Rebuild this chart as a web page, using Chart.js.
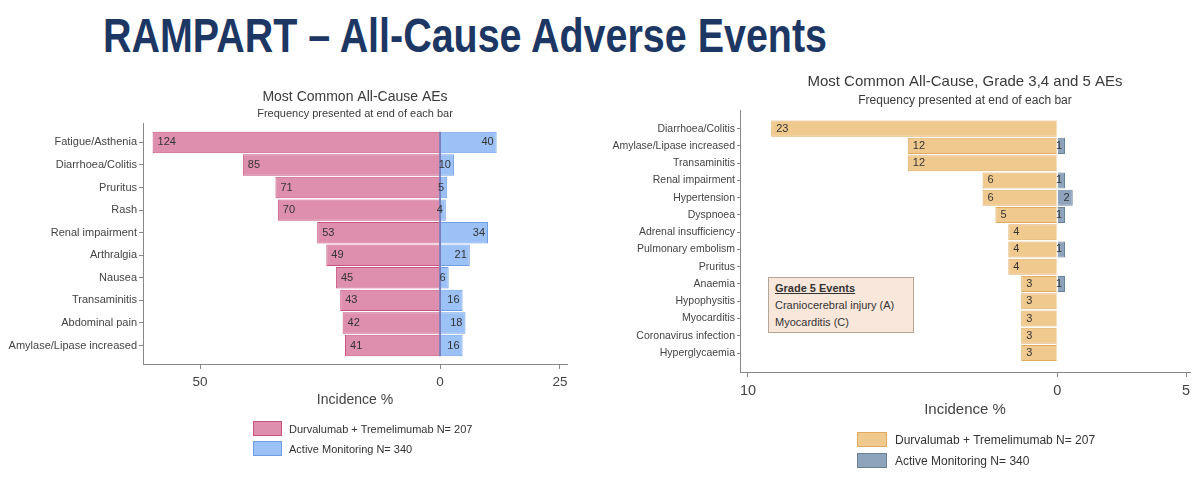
<!DOCTYPE html>
<html>
<head>
<meta charset="utf-8">
<title>RAMPART – All-Cause Adverse Events</title>
<script src="https://cdn.jsdelivr.net/npm/chart.js@4.4.1/dist/chart.umd.min.js"></script>
<style>
  html, body { margin: 0; padding: 0; background: #fff; }
  body { width: 1200px; height: 478px; position: relative; overflow: hidden; font-family: "Liberation Sans", Arial, sans-serif; }
  #mainTitle { position: absolute; left: 103px; top: 12px; font: bold 48px/1 "Liberation Sans Narrow", "Liberation Sans", Arial, sans-serif; color: #1d3764; white-space: nowrap; transform-origin: 0 0; }
  .panel { position: absolute; top: 0; width: 600px; height: 478px; }
  .legend { position: absolute; color: #333; }
  .legend .item { display: flex; align-items: center; }
  .legend .swatch { box-sizing: border-box; border: 1px solid; }
  #grade5 { position: absolute; left: 768px; top: 277px; width: 146px; height: 56px; box-sizing: border-box; border: 1px solid #b5a597; background: #f9e7db; padding: 2px 0 0 6px; font-size: 11px; line-height: 17px; color: #333; }
  #grade5 b { text-decoration: underline; }
</style>
</head>
<body>
<div id="mainTitle">RAMPART – All-Cause Adverse Events</div>

<div class="panel" style="left:0"><canvas id="leftChart"></canvas></div>
<div class="panel" style="left:600px"><canvas id="rightChart"></canvas></div>

<div id="leftLegend" class="legend" style="left:253px; top:421px; font-size:11px"></div>
<div id="rightLegend" class="legend" style="left:857px; top:432px; font-size:12px"></div>

<div id="grade5">
  <b>Grade 5 Events</b><br>
  Craniocerebral injury (A)<br>
  Myocarditis (C)
</div>

<script>
// Left panel - most common all-cause AEs (bar = incidence %, label = patient count)
const allCauseLabels = ['Fatigue/Asthenia', 'Diarrhoea/Colitis', 'Pruritus', 'Rash', 'Renal impairment',
    'Arthralgia', 'Nausea', 'Transaminitis', 'Abdominal pain', 'Amylase/Lipase increased'];
const allCauseDurvaPct = [59.9, 41.1, 34.3, 33.8, 25.6, 23.7, 21.7, 20.8, 20.3, 19.8];
const allCauseDurvaN = [124, 85, 71, 70, 53, 49, 45, 43, 42, 41];
const allCauseMonPct = [11.8, 2.9, 1.5, 1.2, 10.0, 6.2, 1.8, 4.7, 5.3, 4.7];
const allCauseMonN = [40, 10, 5, 4, 34, 21, 6, 16, 18, 16];

// Right panel - grade 3, 4 and 5 AEs
const g345Labels = ['Diarrhoea/Colitis', 'Amylase/Lipase increased', 'Transaminitis', 'Renal impairment',
    'Hypertension', 'Dyspnoea', 'Adrenal insufficiency', 'Pulmonary embolism', 'Pruritus', 'Anaemia',
    'Hypophysitis', 'Myocarditis', 'Coronavirus infection', 'Hyperglycaemia'];
const g345DurvaPct = [11.1, 5.8, 5.8, 2.9, 2.9, 2.4, 1.9, 1.9, 1.9, 1.4, 1.4, 1.4, 1.4, 1.4];
const g345DurvaN = [23, 12, 12, 6, 6, 5, 4, 4, 4, 3, 3, 3, 3, 3];
const g345MonPct = [null, 0.3, null, 0.3, 0.6, 0.3, null, 0.3, null, 0.3, null, null, null, null];
const g345MonN = [null, 1, null, 1, 2, 1, null, 1, null, 1, null, null, null, null];

// x axis ticks (both sides shown as positive numbers)
const leftTickValues = [-50, 0, 25];
const leftTickText = ['50', '0', '25'];
const rightTickValues = [-12, 0, 5];
const rightTickText = ['10', '0', '5'];

const durvaLabel = 'Durvalumab + Tremelimumab N= 207';
const monLabel = 'Active Monitoring N= 340';

Chart.defaults.font.family = '"Liberation Sans", Arial, sans-serif';
Chart.defaults.color = '#444';

// durvalumab goes to the left, so its values are mirrored
function toPoints(pct, counts, side) {
    const pts = [];
    pct.forEach((v, i) => {
        if (v === null) return;
        pts.push({ x: side * v, y: i, n: counts[i] });
    });
    return pts;
}

// count printed just inside the outer end of each bar
const barCounts = {
    id: 'barCounts',
    afterDatasetsDraw(chart, args, opts) {
        const ctx = chart.ctx;
        ctx.save();
        ctx.font = opts.size + 'px "Liberation Sans", Arial, sans-serif';
        ctx.fillStyle = '#333';
        ctx.textBaseline = 'middle';
        chart.data.datasets.forEach((ds, di) => {
            chart.getDatasetMeta(di).data.forEach((bar, i) => {
                const n = ds.data[i].n;
                if (bar.x < bar.base) {
                    ctx.textAlign = 'left';
                    ctx.fillText(n, bar.x + 5, bar.y);
                } else {
                    ctx.textAlign = 'right';
                    ctx.fillText(n, bar.x - 3, bar.y);
                }
            });
        });
        ctx.restore();
    }
};

// dark divider at 0 (left chart only)
const zeroLine = {
    id: 'zeroLine',
    afterDatasetsDraw(chart, args, opts) {
        if (!opts.color) return;
        const bars = chart.getDatasetMeta(0).data;
        const first = bars[0], last = bars[bars.length - 1];
        const x = chart.scales.x.getPixelForValue(0);
        const ctx = chart.ctx;
        ctx.save();
        ctx.strokeStyle = opts.color;
        ctx.lineWidth = 1.5;
        ctx.beginPath();
        ctx.moveTo(x, first.y - first.height / 2);
        ctx.lineTo(x, last.y + last.height / 2);
        ctx.stroke();
        ctx.restore();
    }
};

function axisX(min, max, tickValues, tickText, tickSize, titleSize, titlePad, height) {
    return {
        type: 'linear', stacked: true, min: min, max: max, offset: false,
        afterBuildTicks: s => { s.ticks = tickValues.map(v => ({ value: v })); },
        afterFit: s => { s.height = height; },
        ticks: {
            autoSkip: false, maxRotation: 0, padding: 5, color: '#444',
            font: { size: tickSize },
            callback: v => tickText[tickValues.indexOf(v)]
        },
        grid: { drawOnChartArea: false, drawTicks: true, tickLength: 5, color: '#888', offset: false },
        border: { display: true, color: '#888' },
        title: { display: true, text: 'Incidence %', color: '#444', font: { size: titleSize }, padding: { top: 0, bottom: titlePad } }
    };
}

function axisY(labels, min, max, width, fontSize, tickLen) {
    return {
        type: 'linear', reverse: true, stacked: true, min: min, max: max, offset: false,
        afterBuildTicks: s => { s.ticks = labels.map((l, i) => ({ value: i })); },
        afterFit: s => { s.width = width; },
        ticks: { autoSkip: false, padding: 2, color: '#444', font: { size: fontSize }, callback: v => labels[v] },
        grid: { drawOnChartArea: false, tickLength: tickLen, color: '#888', offset: false },
        border: { display: true, color: '#888' }
    };
}

const leftChart = new Chart(document.getElementById('leftChart'), {
    type: 'bar',
    data: {
        datasets: [{
            label: durvaLabel,
            data: toPoints(allCauseDurvaPct, allCauseDurvaN, -1),
            backgroundColor: '#de8fad', borderColor: '#c9527f', borderWidth: 1,
            barPercentage: 0.95, categoryPercentage: 1
        }, {
            label: monLabel,
            data: toPoints(allCauseMonPct, allCauseMonN, 1),
            backgroundColor: '#9cc1f6', borderColor: '#6f9ee6', borderWidth: 1,
            barPercentage: 0.95, categoryPercentage: 1
        }]
    },
    options: {
        indexAxis: 'y',
        responsive: true,
        maintainAspectRatio: false,
        animation: false,
        layout: { padding: { left: 0, right: 33, top: 0, bottom: 0 } },
        scales: {
            x: axisX(-61.9, 26.46, leftTickValues, leftTickText, 13.5, 14, 69.6, 114),
            y: axisY(allCauseLabels, -0.86, 9.82, 143, 11, 4)
        },
        plugins: {
            legend: { display: false },
            tooltip: { enabled: false },
            title: {
                display: true, text: 'Most Common All-Cause AEs', fullSize: false, color: '#3a3a3a',
                font: { size: 14, weight: 'normal' }, padding: { top: 88.6, bottom: 0 }
            },
            subtitle: {
                display: true, text: 'Frequency presented at end of each bar', fullSize: false, color: '#3a3a3a',
                font: { size: 11 }, padding: { top: 2, bottom: 2.4 }
            },
            zeroLine: { color: '#5a5ea8' },
            barCounts: { size: 11 }
        }
    },
    plugins: [zeroLine, barCounts]
});

const rightChart = new Chart(document.getElementById('rightChart'), {
    type: 'bar',
    data: {
        datasets: [{
            label: durvaLabel,
            data: toPoints(g345DurvaPct, g345DurvaN, -1),
            backgroundColor: '#f0c98f', borderColor: '#e0ab60', borderWidth: 1,
            barPercentage: 0.93, categoryPercentage: 1
        }, {
            label: monLabel,
            data: toPoints(g345MonPct, g345MonN, 1),
            backgroundColor: '#8ea4bd', borderColor: '#6a819c', borderWidth: 1,
            barPercentage: 0.93, categoryPercentage: 1
        }]
    },
    options: {
        indexAxis: 'y',
        responsive: true,
        maintainAspectRatio: false,
        animation: false,
        layout: { padding: { left: 0, right: 10, top: 0, bottom: 0 } },
        scales: {
            x: axisX(-12.31, 5.15, rightTickValues, rightTickText, 14.5, 15, 59, 106),
            y: axisY(g345Labels, -1.08, 14.1, 140, 10.5, 3)
        },
        plugins: {
            legend: { display: false },
            tooltip: { enabled: false },
            title: {
                display: true, text: 'Most Common All-Cause, Grade 3,4 and 5 AEs', fullSize: false, color: '#3a3a3a',
                font: { size: 15, weight: 'normal' }, padding: { top: 73, bottom: 0 }
            },
            subtitle: {
                display: true, text: 'Frequency presented at end of each bar', fullSize: false, color: '#3a3a3a',
                font: { size: 12 }, padding: { top: 2.8, bottom: 1.8 }
            },
            zeroLine: { color: null },
            barCounts: { size: 11 }
        }
    },
    plugins: [zeroLine, barCounts]
});

// legends stacked one item per row, built from the datasets
function buildLegend(elId, chart, swW, swH, gap, textGap) {
    const box = document.getElementById(elId);
    chart.data.datasets.forEach((ds, i) => {
        const item = document.createElement('div');
        item.className = 'item';
        item.style.height = swH + 'px';
        if (i > 0) item.style.marginTop = gap + 'px';
        const sw = document.createElement('div');
        sw.className = 'swatch';
        sw.style.width = swW + 'px';
        sw.style.height = swH + 'px';
        sw.style.background = ds.backgroundColor;
        sw.style.borderColor = ds.borderColor;
        const txt = document.createElement('span');
        txt.style.marginLeft = textGap + 'px';
        txt.textContent = ds.label;
        item.appendChild(sw);
        item.appendChild(txt);
        box.appendChild(item);
    });
}
buildLegend('leftLegend', leftChart, 29, 15, 5, 7);
buildLegend('rightLegend', rightChart, 30, 15, 6, 8);

// squeeze the heading to the width it has on the slide
const mainTitle = document.getElementById('mainTitle');
mainTitle.style.transform = 'scaleX(' + (724 / mainTitle.getBoundingClientRect().width) + ')';
</script>
</body>
</html>
